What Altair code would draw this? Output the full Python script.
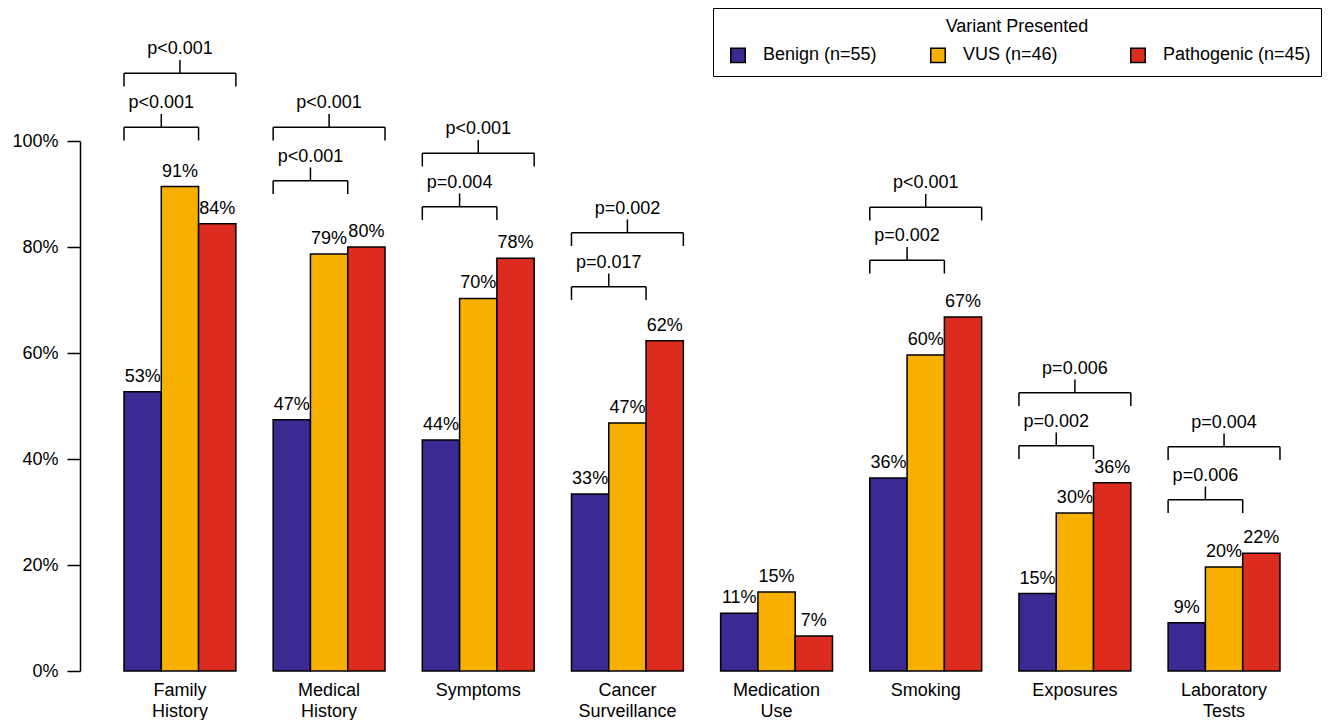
import altair as alt
import pandas as pd

# ---------------- data ----------------
categories = ["Family\nHistory", "Medical\nHistory", "Symptoms", "Cancer\nSurveillance",
              "Medication\nUse", "Smoking", "Exposures", "Laboratory\nTests"]
series = ["Benign (n=55)", "VUS (n=46)", "Pathogenic (n=45)"]
colors = ["#3B2A92", "#F8B000", "#DC2C1F"]

benign = [52.7, 47.4, 43.6, 33.4, 10.9, 36.4, 14.6, 9.1]
vus = [91.4, 78.7, 70.3, 46.8, 14.9, 59.6, 29.8, 19.6]
pathogenic = [84.4, 80.0, 77.9, 62.3, 6.6, 66.8, 35.5, 22.2]

# significance brackets (group index, p-value text, height in %)
bracket_groups = [0, 1, 2, 3, 5, 6, 7]
inner_p = ["p<0.001", "p<0.001", "p=0.004", "p=0.017", "p=0.002", "p=0.002", "p=0.006"]
inner_level = [102.6, 92.5, 87.6, 72.5, 77.5, 42.5, 32.3]
outer_p = ["p<0.001", "p<0.001", "p<0.001", "p=0.002", "p<0.001", "p=0.006", "p=0.004"]
outer_level = [112.8, 102.6, 97.7, 82.7, 87.5, 52.5, 42.3]

y_ticks = [0, 20, 40, 60, 80, 100]

# ---------------- tables ----------------
values = [benign, vus, pathogenic]
rows = []
for g, cat in enumerate(categories):
    for i, s in enumerate(series):
        left = 4 * g + i + 1
        rows.append({"category": cat, "series": s, "order": i,
                     "x": left, "x2": left + 1, "xc": left + 0.5,
                     "value": values[i][g], "base": 0})
bars_df = pd.DataFrame(rows)

brows = []
for k, g in enumerate(bracket_groups):
    for end, p, lvl in ((1, inner_p[k], inner_level[k]), (2, outer_p[k], outer_level[k])):
        left = 4 * g + 1
        right = 4 * g + end + 2
        brows.append({"left": left, "right": right, "center": (left + right) / 2,
                      "level": lvl, "label": p})
br_df = pd.DataFrame(brows)

cat_df = pd.DataFrame({"category": [c.split("\n") for c in categories],
                       "xc": [4 * g + 2.5 for g in range(len(categories))]})

FONT = "Liberation Sans"
TICK = 2.5  # bracket tick length in %

xscale = alt.Scale(domain=[-0.18, 32.966], nice=False, zero=False)
yscale = alt.Scale(domain=[0, 100], nice=False, zero=True)
yax = alt.Axis(values=y_ticks, labelExpr="datum.value + '%'", title=None,
               grid=False, domainColor="black", domainWidth=1.5,
               tickColor="black", tickWidth=1.5, tickSize=13,
               labelFontSize=18, labelColor="black", labelFont=FONT,
               labelPadding=9)


def Y(field):
    return alt.Y(field, scale=yscale, axis=yax)


def X(field):
    return alt.X(field, scale=xscale, axis=None)


bars = alt.Chart(bars_df).mark_rect(stroke="black", strokeWidth=1.5).encode(
    x=X("x:Q"),
    x2="x2:Q",
    y=Y("value:Q"),
    y2="base:Q",
    color=alt.Color("series:N", sort=series,
                    scale=alt.Scale(domain=series, range=colors),
                    legend=alt.Legend(
                        title="Variant Presented", orient="none", legendX=633, legendY=-133,
                        direction="horizontal", columns=3, gridAlign="all",
                        titleAnchor="middle", titleFontSize=18, titleFontWeight="normal",
                        titleColor="black", titleFont=FONT, titlePadding=10,
                        labelFontSize=18, labelColor="black", labelFont=FONT,
                        symbolType="square", symbolSize=210, symbolStrokeColor="black",
                        symbolStrokeWidth=1.5, symbolOffset=6, labelOffset=16,
                        columnPadding=12, strokeColor="black", padding=10)),
)

bar_labels = alt.Chart(bars_df).transform_calculate(
    pct="format(datum.value, '.0f') + '%'"
).mark_text(
    font=FONT, fontSize=18, color="black", baseline="alphabetic", dy=-10
).encode(x=X("xc:Q"), y=Y("value:Q"), text="pct:N")

base_br = alt.Chart(br_df).transform_calculate(
    low=f"datum.level - {TICK}", high=f"datum.level + {TICK}")
rule = dict(color="black", strokeWidth=1.5)
h_line = base_br.mark_rule(**rule).encode(x=X("left:Q"), x2="right:Q", y=Y("level:Q"))
left_tick = base_br.mark_rule(**rule).encode(x=X("left:Q"), y=Y("level:Q"), y2="low:Q")
right_tick = base_br.mark_rule(**rule).encode(x=X("right:Q"), y=Y("level:Q"), y2="low:Q")
mid_tick = base_br.mark_rule(**rule).encode(x=X("center:Q"), y=Y("level:Q"), y2="high:Q")
p_text = base_br.mark_text(font=FONT, fontSize=18, color="black",
                           baseline="alphabetic", dy=-19).encode(
    x=X("center:Q"), y=Y("level:Q"), text="label:N")

cat_text = alt.Chart(cat_df).mark_text(font=FONT, fontSize=18, color="black",
                                       baseline="alphabetic", lineHeight=21).encode(
    x=X("xc:Q"), y=alt.value(555), text="category:N")

chart = alt.layer(bars, bar_labels, h_line, left_tick, right_tick, mid_tick, p_text, cat_text).properties(
    width=1236, height=530,
    padding={"left": 72, "top": 133, "right": 6, "bottom": 49},
    autosize=alt.AutoSizeParams(type="none"),
).configure(font=FONT, background="white").configure_view(strokeWidth=0, stroke="transparent")

chart.save("out.html", embed_options={"renderer": "svg", "actions": False})
